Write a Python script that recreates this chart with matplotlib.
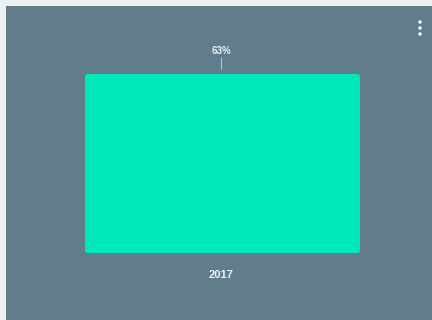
import matplotlib
matplotlib.use("Agg")
import matplotlib.pyplot as plt
from matplotlib.patches import Rectangle, Ellipse

# Data
categories = ["2017"]
values = [63]
value_labels = ["63%"]

W, H, DPI = 432, 320, 100
PANEL = "#617d8c"
BAR = "#00e9bb"
TEXT = "#eef1f3"
OUTER = "#eef0f3"

fig = plt.figure(figsize=(W / DPI, H / DPI), dpi=DPI)
fig.patch.set_facecolor(OUTER)

# Card background in a pixel-coordinate backdrop axes
bg = fig.add_axes([0, 0, 1, 1], zorder=-1)
bg.set_xlim(0, W)
bg.set_ylim(H, 0)
bg.axis("off")
bg.add_patch(Rectangle((6, 6), W, H, facecolor=PANEL, edgecolor="none"))
# Overflow menu dots
for yy in (22, 28, 34):
    bg.add_patch(Ellipse((420, yy), 3.4, 3.4, facecolor="white", edgecolor="none"))

# Bar region in pixels, with rounded edge stroke inset
r = 2.5
x0, x1 = 84 + r, 359 - r
ytop, ybot = 73 + r, 252 - r
ax = fig.add_axes([x0 / W, (H - ybot) / H, (x1 - x0) / W, (ybot - ytop) / H])
ax.set_facecolor("none")
for s in ax.spines.values():
    s.set_visible(False)

xs = list(range(len(categories)))
lw_pt = 2 * r * 72 / DPI
ax.bar(xs, values, width=1.0, color=BAR, edgecolor=BAR, linewidth=lw_pt,
       joinstyle="round", clip_on=False, zorder=2)
ax.set_xlim(-0.5, len(categories) - 0.5)
ax.set_ylim(0, max(values))
ax.set_yticks([])
ax.set_xticks(xs)
ax.set_xticklabels(categories, color=TEXT, fontsize=8, fontweight="bold",
                   family="Liberation Sans")
ax.tick_params(axis="x", length=0, pad=(23 - r) * 72 / DPI)

# Value labels with a short leader line above each bar
for x, v, lab in zip(xs, values, value_labels):
    ax.annotate(lab, xy=(x, v), xytext=(0, (r + 21.5) * 72 / DPI),
                textcoords="offset points", ha="center", va="center",
                color=TEXT, fontsize=7, fontweight="bold", family="Liberation Sans",
                annotation_clip=False)
    ax.annotate("", xy=(x, v), xycoords="data",
                xytext=(0, (r + 15) * 72 / DPI), textcoords="offset points",
                arrowprops=dict(arrowstyle="-", color="#b4c2ca", lw=0.8,
                                shrinkA=0, shrinkB=(r + 4) * 72 / DPI),
                annotation_clip=False)

fig.savefig("out.png", dpi=DPI, facecolor=fig.get_facecolor())
